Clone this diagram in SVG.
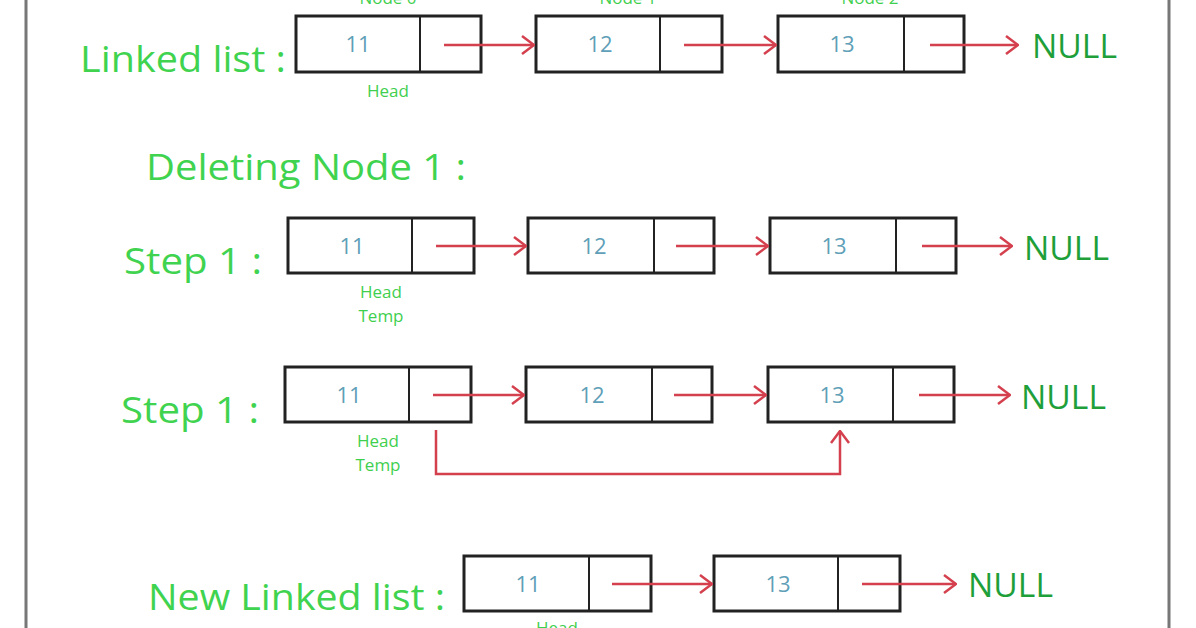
<svg xmlns="http://www.w3.org/2000/svg" width="1196" height="628" viewBox="0 0 1196 628">
<defs>
<marker id="ah" markerWidth="14" markerHeight="20" refX="13" refY="10" orient="auto" markerUnits="userSpaceOnUse"><path d="M1,1 L13,10 L1,19" fill="none" stroke="#d4404e" stroke-width="2.5"/></marker>
<style>
.b{fill:#fff;stroke:#222;stroke-width:3}
.d{stroke:#222;stroke-width:2}
.v{font-family:"Open Sans",sans-serif;font-size:22px;fill:#5f9fb8;text-anchor:middle}
.s{font-family:"Open Sans",sans-serif;font-size:17px;fill:#3fcf4f;text-anchor:middle}
.l{font-family:"Open Sans",sans-serif;font-size:36px;fill:#3fd34f}
.n{font-family:"Open Sans",sans-serif;font-size:33px;fill:#1f9f3a}
.a{stroke:#d4404e;stroke-width:2.5;fill:none;marker-end:url(#ah)}
</style>
</defs>
<rect width="1196" height="628" fill="#fff"/>
<line x1="26" y1="0" x2="26" y2="628" stroke="#777" stroke-width="3"/>
<line x1="1169" y1="0" x2="1169" y2="628" stroke="#777" stroke-width="3"/>
<text class="l" x="80" y="72" textLength="206" lengthAdjust="spacingAndGlyphs">Linked list :</text>
<text class="l" x="146" y="180" textLength="320" lengthAdjust="spacingAndGlyphs">Deleting Node 1 :</text>
<text class="l" x="124" y="274" textLength="138" lengthAdjust="spacingAndGlyphs">Step 1 :</text>
<text class="l" x="121" y="423" textLength="138" lengthAdjust="spacingAndGlyphs">Step 1 :</text>
<text class="l" x="148" y="610" textLength="297" lengthAdjust="spacingAndGlyphs">New Linked list :</text>
<g id="r1n0"><rect class="b" x="296" y="16" width="185" height="56"/><line class="d" x1="420" y1="16" x2="420" y2="72"/><text class="v" x="358" y="52">11</text><text class="s" x="388" y="4">Node 0</text><text class="s" x="388" y="97">Head</text></g>
<g id="r1n1"><rect class="b" x="536" y="16" width="186" height="56"/><line class="d" x1="660" y1="16" x2="660" y2="72"/><text class="v" x="600" y="52">12</text><text class="s" x="628" y="4">Node 1</text></g>
<g id="r1n2"><rect class="b" x="778" y="16" width="186" height="56"/><line class="d" x1="904" y1="16" x2="904" y2="72"/><text class="v" x="842" y="52">13</text><text class="s" x="870" y="4">Node 2</text></g>
<text class="n" x="1032" y="58" textLength="85" lengthAdjust="spacingAndGlyphs">NULL</text>
<g id="r2n0"><rect class="b" x="288" y="218" width="186" height="55"/><line class="d" x1="412" y1="218" x2="412" y2="273"/><text class="v" x="352" y="254">11</text><text class="s" x="381" y="298">Head</text><text class="s" x="381" y="322">Temp</text></g>
<g id="r2n1"><rect class="b" x="528" y="218" width="186" height="55"/><line class="d" x1="654" y1="218" x2="654" y2="273"/><text class="v" x="594" y="254">12</text></g>
<g id="r2n2"><rect class="b" x="770" y="218" width="186" height="55"/><line class="d" x1="896" y1="218" x2="896" y2="273"/><text class="v" x="834" y="254">13</text></g>
<text class="n" x="1024" y="260" textLength="85" lengthAdjust="spacingAndGlyphs">NULL</text>
<g id="r3n0"><rect class="b" x="285" y="367" width="186" height="55"/><line class="d" x1="409" y1="367" x2="409" y2="422"/><text class="v" x="349" y="403">11</text><text class="s" x="378" y="447">Head</text><text class="s" x="378" y="471">Temp</text></g>
<g id="r3n1"><rect class="b" x="526" y="367" width="186" height="55"/><line class="d" x1="652" y1="367" x2="652" y2="422"/><text class="v" x="592" y="403">12</text></g>
<g id="r3n2"><rect class="b" x="768" y="367" width="186" height="55"/><line class="d" x1="893" y1="367" x2="893" y2="422"/><text class="v" x="832" y="403">13</text></g>
<text class="n" x="1021" y="409" textLength="85" lengthAdjust="spacingAndGlyphs">NULL</text>
<g id="r4n0"><rect class="b" x="464" y="556" width="187" height="55"/><line class="d" x1="589" y1="556" x2="589" y2="611"/><text class="v" x="528" y="592">11</text><text class="s" x="557" y="634">Head</text></g>
<g id="r4n1"><rect class="b" x="714" y="556" width="186" height="55"/><line class="d" x1="838" y1="556" x2="838" y2="611"/><text class="v" x="778" y="592">13</text></g>
<text class="n" x="968" y="597" textLength="85" lengthAdjust="spacingAndGlyphs">NULL</text>
<g id="connectors">
<line class="a" x1="444" y1="45" x2="534" y2="45"/>
<line class="a" x1="684" y1="45" x2="776" y2="45"/>
<line class="a" x1="930" y1="45" x2="1018" y2="45"/>
<line class="a" x1="436" y1="246" x2="526" y2="246"/>
<line class="a" x1="676" y1="246" x2="768" y2="246"/>
<line class="a" x1="922" y1="246" x2="1012" y2="246"/>
<line class="a" x1="433" y1="395" x2="524" y2="395"/>
<line class="a" x1="674" y1="395" x2="766" y2="395"/>
<line class="a" x1="919" y1="395" x2="1010" y2="395"/>
<path class="a" d="M436,430 V474 H840 V431"/>
<line class="a" x1="612" y1="584" x2="712" y2="584"/>
<line class="a" x1="862" y1="584" x2="956" y2="584"/>
</g>
</svg>
